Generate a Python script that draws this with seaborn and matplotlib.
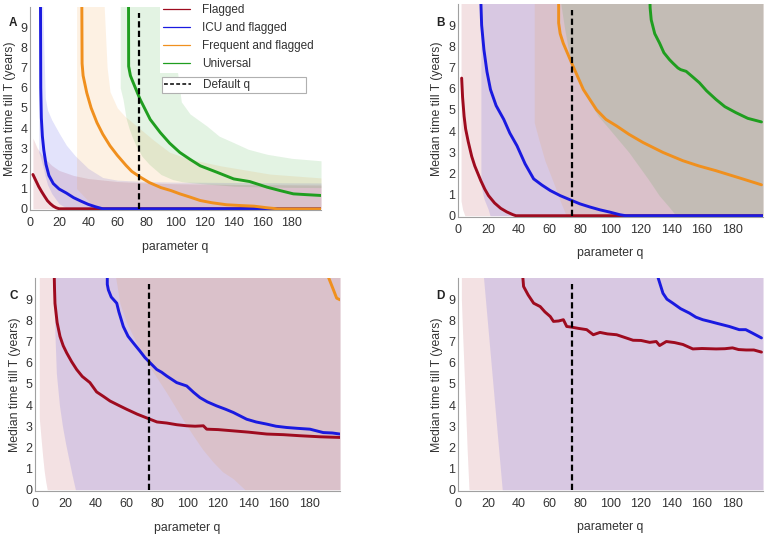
import numpy as np
import matplotlib
matplotlib.use("Agg")
import matplotlib.pyplot as plt
from matplotlib.lines import Line2D
import seaborn as sns

# ---------------------------------------------------------------
# dados (q -> mediana do tempo ate T, em anos)
# ---------------------------------------------------------------
TOPO = 12  # limite superior das faixas que saem do grafico

# painel A
A_FLAG_Q = [2, 4, 6, 8, 10, 12, 14, 16, 18, 20, 200]
A_FLAG_MED = [1.7, 1.4, 1.1, 0.85, 0.62, 0.4, 0.25, 0.13, 0.05, 0, 0]
A_FLAG_BQ = [2, 5, 10, 15, 20, 30, 40, 60, 80, 100, 150, 200]
A_FLAG_LO = [0, 0, 0, 0, 0, 0, 0, 0, 0, 0, 0, 0]
A_FLAG_HI = [3.5, 3.0, 2.5, 2.15, 1.9, 1.65, 1.5, 1.35, 1.28, 1.24, 1.2, 1.18]

A_ICU_Q = [7.2, 7.4, 7.8, 8.5, 9.5, 11, 13, 16, 20, 25, 30, 35, 40, 45, 50, 200]
A_ICU_MED = [10.5, 6, 4.5, 3.6, 2.9, 2.2, 1.65, 1.25, 0.98, 0.78, 0.55, 0.38, 0.22, 0.1, 0, 0]
A_ICU_BQ = [6, 7, 8.5, 9.5, 10.5, 12, 15, 20, 25, 31, 40, 50, 60, 80, 100, 150, 200]
A_ICU_LO = [2.8, 2.6, 2.2, 1.9, 1.6, 1.2, 0.75, 0.25, 0.05, 0, 0, 0, 0, 0, 0, 0, 0]
A_ICU_HI = [TOPO, TOPO, 11, 8, 5.5, 4.9, 4.4, 3.75, 3.15, 2.63, 2.0, 1.55, 1.42, 1.35, 1.32, 1.3, 1.28]

A_FREQ_Q = [35.6, 35.8, 36.5, 39, 42, 46, 50, 55, 60, 66, 70, 76, 82, 90, 97, 103,
            110, 117, 125, 135, 145, 154, 163, 170, 200]
A_FREQ_MED = [10.5, 7.2, 6.6, 5.75, 5.0, 4.27, 3.7, 3.12, 2.65, 2.15, 1.85, 1.56, 1.3,
              1.05, 0.9, 0.74, 0.58, 0.41, 0.3, 0.2, 0.16, 0.13, 0.05, 0, 0]
A_FREQ_BQ = [32, 36, 40, 44, 48, 50, 51, 53, 55, 60, 65, 70, 75, 85, 96, 110, 131,
             150, 165, 200]
A_FREQ_LO = [1.0, 0.7, 0.4, 0.15, 0, 0, 0, 0, 0, 0, 0, 0, 0, 0, 0, 0, 0, 0, 0, 0]
A_FREQ_HI = [TOPO, TOPO, TOPO, TOPO, TOPO, TOPO, 10, 7, 5.8, 5.0, 4.6, 4.3, 4.0, 3.4,
             2.8, 2.45, 2.13, 1.9, 1.72, 1.53]

A_UNIV_Q = [67.7, 67.8, 69, 71, 75.7, 82.6, 89.5, 96, 103, 110, 117, 128.5, 140, 151,
            163, 172, 181, 190, 200]
A_UNIV_MED = [10.5, 7.06, 6.6, 6.24, 5.42, 4.43, 3.78, 3.25, 2.79, 2.45, 2.13, 1.81,
              1.48, 1.35, 1.07, 0.9, 0.74, 0.7, 0.66]
A_UNIV_BQ = [62, 64, 66, 68, 70, 73, 77, 82, 90, 98, 101, 104, 110, 121.6, 130, 140,
             150, 163, 180, 200]
A_UNIV_LO = [6.0, 5.4, 4.5, 4.0, 3.6, 3.1, 2.6, 2.2, 1.7, 1.45, 1.4, 1.35, 1.3, 1.22,
             1.18, 1.12, 1.1, 1.08, 1.06, 1.05]
A_UNIV_HI = [TOPO, TOPO, TOPO, TOPO, TOPO, TOPO, TOPO, TOPO, TOPO, TOPO, 7, 5.3, 4.7,
             4.1, 3.6, 3.28, 2.95, 2.7, 2.5, 2.38]

# painel B
B_FLAG_Q = [2.4, 3, 4, 5, 6.7, 9, 11, 13, 15, 17.6, 20, 24, 28, 32, 36, 38, 200]
B_FLAG_MED = [6.5, 5.6, 4.7, 4.1, 3.5, 2.8, 2.35, 2.0, 1.65, 1.25, 0.95, 0.6, 0.35,
              0.18, 0.05, 0, 0]
B_FLAG_BQ = [2, 3, 4.5, 200]
B_FLAG_LO = [0.7, 0.3, 0, 0]

B_ICU_Q = [14.8, 15.5, 17, 19, 21.3, 25, 30, 34, 38.7, 44, 49.6, 55, 60.5, 67, 74.6,
           80, 86.6, 93, 99.6, 106, 110, 200]
B_ICU_MED = [10.5, 9.0, 7.84, 6.8, 5.96, 5.2, 4.55, 3.9, 3.3, 2.45, 1.74, 1.45, 1.19,
             0.95, 0.72, 0.56, 0.41, 0.28, 0.17, 0.05, 0, 0]
B_ICU_BQ = [15, 17, 19.8, 21, 200]
B_ICU_LO = [1.45, 0.8, 0.3, 0, 0]

B_FREQ_Q = [66, 66, 67, 69, 74.6, 82.2, 90.9, 97, 104, 112, 121.3, 134.4, 147.4, 158,
            169, 186.6, 199]
B_FREQ_MED = [10.5, 9.1, 8.6, 8.15, 7.2, 5.96, 5.0, 4.55, 4.24, 3.85, 3.46, 2.99, 2.6,
              2.35, 2.13, 1.74, 1.46]
B_FREQ_BQ = [50, 53, 57, 60, 64, 67, 71, 200]
B_FREQ_LO = [4.4, 3.6, 2.6, 2.05, 1.3, 0.7, 0, 0]

B_UNIV_Q = [125.7, 126, 126.7, 129, 132.2, 135, 138.7, 141, 144.2, 146, 149.6, 154,
            158.3, 163, 169.2, 175, 182.2, 190, 199]
B_UNIV_MED = [10.5, 9.8, 9.25, 8.6, 8.15, 7.7, 7.37, 7.2, 6.98, 6.9, 6.82, 6.55, 6.28,
              5.9, 5.49, 5.15, 4.87, 4.6, 4.43]
B_UNIV_BQ = [67, 70, 73, 78, 80, 86, 92, 98, 105, 112, 118, 125, 132, 138, 143, 200]
B_UNIV_LO = [10.2, 8.8, 7.6, 6.5, 6.3, 5.4, 4.7, 4.2, 3.6, 3.0, 2.4, 1.7, 0.95, 0.45,
             0, 0]

# painel C
C_FLAG_Q = [12.5, 12.8, 13.1, 14.5, 16.4, 18.5, 20.8, 24, 27.3, 31, 36, 40.4, 45,
            49.2, 55, 60.1, 67, 75.4, 80, 86.4, 93, 99.5, 105, 110.4, 112.6, 120, 130,
            140, 152, 163, 173.8, 187, 200]
C_FLAG_MED = [10.5, 9.5, 8.8, 7.9, 7.24, 6.8, 6.46, 6.05, 5.68, 5.35, 5.06, 4.62, 4.4,
              4.19, 3.98, 3.8, 3.57, 3.33, 3.2, 3.15, 3.07, 3.02, 3.0, 3.02, 2.86,
              2.84, 2.78, 2.72, 2.63, 2.6, 2.55, 2.5, 2.47]
C_FLAG_BQ = [2.8, 4, 5, 6, 7, 8, 200]
C_FLAG_LO = [3.4, 2.4, 1.6, 0.9, 0.4, 0, 0]

C_ICU_Q = [47.4, 47.4, 48.1, 50, 53.6, 55, 57.9, 61, 64.5, 68.9, 72, 75.4, 79.8, 83,
           86.4, 92.9, 99.5, 104, 108.2, 113, 119.1, 125, 130, 138.8, 145, 151.9,
           158, 165, 172, 180.3, 189, 195, 200]
C_ICU_MED = [10.5, 9.7, 9.44, 9.1, 8.81, 8.4, 7.71, 7.25, 6.93, 6.54, 6.25, 6.0, 5.68,
             5.55, 5.37, 5.06, 4.9, 4.6, 4.35, 4.15, 3.96, 3.8, 3.65, 3.33, 3.2, 3.1,
             3.0, 2.94, 2.9, 2.86, 2.7, 2.68, 2.63]
C_ICU_BQ = [12, 13, 14, 16, 18, 20, 22, 24, 26.5, 200]
C_ICU_LO = [10.2, 7.5, 5.5, 4.0, 3.0, 2.2, 1.5, 0.8, 0, 0]

C_FREQ_Q = [190.5, 192.3, 195.7, 197.8, 200]
C_FREQ_MED = [10.5, 10.06, 9.44, 9.05, 8.97]
C_FREQ_BQ = [52.5, 55.7, 60, 64.5, 69, 73.2, 78, 82, 87, 92.9, 98, 103.8, 110, 116.9,
             123, 130, 134, 137.7, 200]
C_FREQ_LO = [10.2, 8.8, 7.9, 7.24, 6.6, 6.0, 5.5, 5.06, 4.5, 3.8, 3.2, 2.55, 1.9, 1.3,
             0.85, 0.52, 0.25, 0, 0]

# painel D
D_FLAG_Q = [42, 43, 46, 49.6, 53.9, 57, 60.5, 62.6, 66, 69.1, 71.3, 74.4, 79, 84.4,
            88.7, 93.1, 98, 104, 109, 114.8, 120, 125.7, 130, 132.2, 136.6, 142,
            147.5, 154, 160, 169.2, 175, 180, 184, 188.9, 194, 199]
D_FLAG_MED = [10.5, 9.6, 9.2, 8.81, 8.65, 8.4, 8.18, 7.95, 7.97, 8.03, 7.71, 7.68,
              7.62, 7.56, 7.32, 7.43, 7.36, 7.32, 7.2, 7.06, 7.05, 6.96, 7.0, 6.81,
              7.0, 6.95, 6.86, 6.65, 6.67, 6.65, 6.66, 6.7, 6.62, 6.6, 6.6, 6.5]
D_FLAG_BQ = [2.2, 3, 4, 5, 6, 7.2, 200]
D_FLAG_LO = [9.0, 7.4, 5.6, 3.8, 1.9, 0, 0]

D_ICU_Q = [130, 131, 134.4, 137, 140.9, 146, 151.8, 156, 160.5, 165, 169.2, 173,
           177.9, 184.4, 188.7, 193, 199]
D_ICU_MED = [10.5, 10.06, 9.28, 9.0, 8.81, 8.55, 8.34, 8.15, 8.03, 7.95, 7.87, 7.8,
             7.71, 7.56, 7.56, 7.4, 7.17]
D_ICU_BQ = [16.5, 29, 200]
D_ICU_LO = [10.2, 0, 0]

Q_PADRAO = 75
ROTULOS = ["Flagged", "ICU and flagged", "Frequent and flagged", "Universal"]

# ---------------------------------------------------------------
# estilo
# ---------------------------------------------------------------
sns.set_theme(style="white")
plt.rcParams["font.family"] = ["Liberation Sans", "DejaVu Sans"]
plt.rcParams.update({
    "axes.edgecolor": "#a0a0a0",
    "axes.linewidth": 0.8,
    "xtick.color": "#909090",
    "ytick.color": "#909090",
    "xtick.labelcolor": "#333333",
    "ytick.labelcolor": "#333333",
    "axes.labelcolor": "#333333",
})

CORES = {"flag": "#9e0b1f", "icu": "#1a1ae0", "freq": "#f0901e", "univ": "#1f9e1f"}
W, H = 768, 539


def faixa(ax, q, lo, hi, cor):
    hi = np.full(len(q), TOPO) if hi is None else hi
    ax.fill_between(q, lo, hi, color=cor, alpha=0.12, lw=0)


def mediana(ax, q, v, cor):
    sns.lineplot(x=q, y=v, ax=ax, color=cor, lw=2.1, estimator=None, sort=False,
                 legend=False)


def eixo(fig, caixa, letra, pos_ylab, pos_xlab, pos_letra):
    l, r, t, b = caixa
    ax = fig.add_axes([l / W, 1 - b / H, (r - l) / W, (b - t) / H])
    ax.set_xlim(0, 200)
    ax.set_ylim(-0.06, 10)
    ax.set_xticks(range(0, 181, 20))
    ax.set_yticks(range(0, 10))
    ax.tick_params(axis="both", direction="in", length=3, width=0.7, labelsize=9)
    ax.tick_params(axis="x", pad=5)
    ax.tick_params(axis="y", pad=2)
    for s in ["top", "right"]:
        ax.spines[s].set_visible(False)
    ax.set_xlabel("parameter q", fontsize=8.8)
    ax.set_ylabel("Median time till T (years)", fontsize=8.8)
    ax.xaxis.set_label_coords(*pos_xlab)
    ax.xaxis.label.set_va("center")
    ax.yaxis.set_label_coords(*pos_ylab)
    ax.yaxis.label.set_va("center")
    ax.text(*pos_letra, letra, transform=ax.transAxes, fontsize=8.5,
            fontweight="bold", ha="center", va="center", color="#222222")
    return ax


def linha_padrao(ax):
    ax.vlines(Q_PADRAO, 0, 9.7, colors="black", linestyles=(0, (2.8, 1.5)), lw=1.6,
              zorder=5)


fig = plt.figure(figsize=(W / 100, H / 100), dpi=100)
fig.patch.set_facecolor("white")

# ---------------- painel A ----------------
axA = eixo(fig, (30, 321, 7, 210), "A", (-0.069, 0.50), (0.50, -0.182), (-0.058, 0.921))
faixa(axA, A_FLAG_BQ, A_FLAG_LO, A_FLAG_HI, CORES["flag"])
faixa(axA, A_ICU_BQ, A_ICU_LO, A_ICU_HI, CORES["icu"])
faixa(axA, A_FREQ_BQ, A_FREQ_LO, A_FREQ_HI, CORES["freq"])
faixa(axA, A_UNIV_BQ, A_UNIV_LO, A_UNIV_HI, CORES["univ"])
mediana(axA, A_FLAG_Q, A_FLAG_MED, CORES["flag"])
mediana(axA, A_ICU_Q, A_ICU_MED, CORES["icu"])
mediana(axA, A_FREQ_Q, A_FREQ_MED, CORES["freq"])
mediana(axA, A_UNIV_Q, A_UNIV_MED, CORES["univ"])
linha_padrao(axA)

alcas = [Line2D([], [], color=CORES[k], lw=0.9) for k in ["flag", "icu", "freq", "univ"]]
leg1 = axA.legend(alcas, ROTULOS, loc="upper left", bbox_to_anchor=(160 / W, 1 - 1 / H),
                  bbox_transform=fig.transFigure, fontsize=8.5, frameon=True,
                  facecolor="white", edgecolor="none", framealpha=1, fancybox=False,
                  handlelength=2.3, handletextpad=1.0, labelspacing=0.5,
                  borderpad=0.25, borderaxespad=0)
axA.add_artist(leg1)
leg2 = axA.legend([Line2D([], [], color="black", lw=1.1, ls=(0, (2.5, 1.5)))],
                  ["Default q"], loc="upper left",
                  bbox_to_anchor=(162 / W, 1 - 92 / H, (306 - 162) / W, 15 / H),
                  mode="expand", bbox_transform=fig.transFigure, fontsize=8.5,
                  frameon=True, facecolor="white", edgecolor="#b0b0b0", framealpha=1,
                  fancybox=False, handlelength=2.3, handletextpad=1.0, borderpad=0.15,
                  borderaxespad=0)
leg2.get_frame().set_linewidth(0.8)
for t in leg1.get_texts() + leg2.get_texts():
    t.set_color("#333333")

# ---------------- painel B ----------------
axB = eixo(fig, (458, 763, 4, 217), "B", (-0.069, 0.51), (0.50, -0.168), (-0.056, 0.911))
faixa(axB, B_FLAG_BQ, B_FLAG_LO, None, CORES["flag"])
faixa(axB, B_ICU_BQ, B_ICU_LO, None, CORES["icu"])
faixa(axB, B_FREQ_BQ, B_FREQ_LO, None, CORES["freq"])
faixa(axB, B_UNIV_BQ, B_UNIV_LO, None, CORES["univ"])
mediana(axB, B_FLAG_Q, B_FLAG_MED, CORES["flag"])
mediana(axB, B_ICU_Q, B_ICU_MED, CORES["icu"])
mediana(axB, B_FREQ_Q, B_FREQ_MED, CORES["freq"])
mediana(axB, B_UNIV_Q, B_UNIV_MED, CORES["univ"])
linha_padrao(axB)

# ---------------- painel C ----------------
axC = eixo(fig, (35, 340, 278, 491), "C", (-0.066, 0.50), (0.50, -0.173), (-0.069, 0.916))
faixa(axC, C_FLAG_BQ, C_FLAG_LO, None, CORES["flag"])
faixa(axC, C_ICU_BQ, C_ICU_LO, None, CORES["icu"])
faixa(axC, C_FREQ_BQ, C_FREQ_LO, None, CORES["freq"])
mediana(axC, C_FLAG_Q, C_FLAG_MED, CORES["flag"])
mediana(axC, C_ICU_Q, C_ICU_MED, CORES["icu"])
mediana(axC, C_FREQ_Q, C_FREQ_MED, CORES["freq"])
linha_padrao(axC)

# ---------------- painel D ----------------
axD = eixo(fig, (458, 763, 278, 491), "D", (-0.069, 0.50), (0.50, -0.168), (-0.056, 0.916))
faixa(axD, D_FLAG_BQ, D_FLAG_LO, None, CORES["flag"])
faixa(axD, D_ICU_BQ, D_ICU_LO, None, CORES["icu"])
mediana(axD, D_FLAG_Q, D_FLAG_MED, CORES["flag"])
mediana(axD, D_ICU_Q, D_ICU_MED, CORES["icu"])
linha_padrao(axD)

fig.savefig("out.png", dpi=100, facecolor="white")
